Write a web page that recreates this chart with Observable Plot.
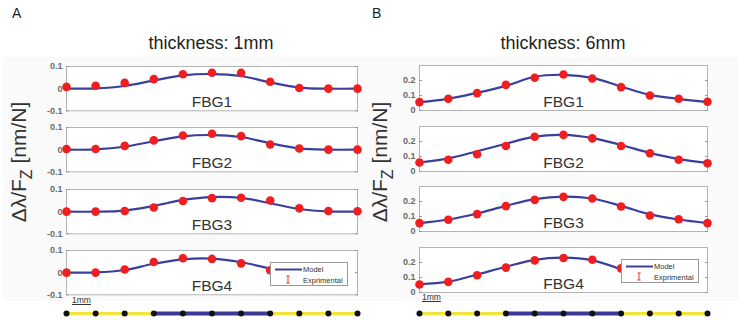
<!DOCTYPE html>
<html>
<head>
<meta charset="utf-8">
<script src="https://cdn.jsdelivr.net/npm/d3@7"></script>
<script src="https://cdn.jsdelivr.net/npm/@observablehq/plot@0.6"></script>
<style>
  html, body { margin: 0; padding: 0; background: #fff; }
  #fig { position: relative; width: 739px; height: 320px; overflow: hidden; font-family: "Liberation Sans", Arial, sans-serif; color: #333; }
  #fig svg { position: absolute; overflow: visible; background: transparent; }
  .abs { position: absolute; white-space: nowrap; }
  .legend { position: absolute; background: #fff; border: 1px solid #999; box-sizing: border-box; }
</style>
</head>
<body>
<div id="fig"></div>
<script>
// ---------- data ----------
const positions = [0, 1, 2, 3, 4, 5, 6, 7, 8, 9, 10];   // FBG sensor positions (spacing units)
const fbgNames = ["FBG1", "FBG2", "FBG3", "FBG4"];
const activeSegment = [3, 7];                          // blue section of the fiber

// thickness 1 mm
const expA1 = [0.008, 0.013, 0.026, 0.043, 0.065, 0.072, 0.071, 0.031, 0.003, 0.000, 0.000];
const modA1 = [0.000, 0.001, 0.012, 0.037, 0.060, 0.066, 0.057, 0.028, 0.005, 0.000, 0.000];
const expA2 = [0.003, 0.003, 0.017, 0.042, 0.064, 0.072, 0.061, 0.023, 0.005, 0.000, 0.000];
const modA2 = [0.000, 0.001, 0.013, 0.038, 0.060, 0.066, 0.057, 0.029, 0.006, 0.000, 0.000];
const expA3 = [0.000, 0.000, 0.003, 0.019, 0.048, 0.061, 0.063, 0.050, 0.015, 0.003, 0.002];
const modA3 = [0.000, 0.000, 0.005, 0.026, 0.053, 0.066, 0.062, 0.038, 0.012, 0.001, 0.000];
// FBG4: only the part not hidden by the legend is visible in the figure
const expA4 = [0.000, 0.000, 0.014, 0.048, 0.065, 0.062, 0.042, 0.011];
const modA4 = [0.000, 0.001, 0.012, 0.040, 0.060, 0.063, 0.047, 0.018];

// thickness 6 mm
const expB1 = [0.056, 0.078, 0.116, 0.171, 0.218, 0.240, 0.213, 0.156, 0.100, 0.078, 0.058];
const modB1 = [0.056, 0.078, 0.118, 0.164, 0.225, 0.238, 0.218, 0.160, 0.104, 0.078, 0.056];
const expB2 = [0.060, 0.078, 0.115, 0.170, 0.232, 0.244, 0.221, 0.170, 0.122, 0.078, 0.055];
const modB2 = [0.060, 0.087, 0.135, 0.185, 0.232, 0.244, 0.223, 0.177, 0.124, 0.083, 0.058];
const expB3 = [0.056, 0.078, 0.116, 0.169, 0.211, 0.231, 0.220, 0.167, 0.107, 0.082, 0.056];
const modB3 = [0.056, 0.080, 0.120, 0.171, 0.216, 0.233, 0.220, 0.171, 0.114, 0.080, 0.056];
const expB4 = [0.053, 0.071, 0.115, 0.166, 0.214, 0.230, 0.218, 0.161];
const modB4 = [0.055, 0.072, 0.120, 0.172, 0.218, 0.232, 0.214, 0.154];

const ticksA = [-0.1, 0, 0.1];
const ticksB = [0, 0.1, 0.2];
const domainA = [-0.1, 0.1];
const domainB = [0, 0.3];

// ---------- layout ----------
const fig = document.getElementById("fig");
const MODEL = "#3a3f9e", EXP = "#f01e1e";

const panels = [
  { left: 0, width: 365, mL: 66, mR: 8, tops: [65.7, 127.1, 188.5, 249.9], h: 44.3,
    domain: domainA, ticks: ticksA, exp: [expA1, expA2, expA3, expA4], mod: [modA1, modA2, modA3, modA4], labelY: -0.062 },
  { left: 370, width: 369, mL: 49, mR: 32, tops: [65, 125.6, 186.2, 246.8], h: 45,
    domain: domainB, ticks: ticksB, exp: [expB1, expB2, expB3, expB4], mod: [modB1, modB2, modB3, modB4], labelY: 0.055 }
];

const fmt = d => d === 0 ? "0" : String(d);
const pad = 6;

function place(el, left, top) {
  el.style.left = left + "px";
  el.style.top = top + "px";
  fig.appendChild(el);
}

// light figure background
const bg = document.createElement("div");
bg.className = "abs";
bg.style.cssText += "left:3px;top:57px;width:736px;height:244px;background:#fafafa;";
fig.appendChild(bg);

panels.forEach(p => {
  p.exp.forEach((ev, i) => {
    const rows = ev.map((e, k) => ({ x: positions[k], exp: e, model: p.mod[i][k] }));
    const svg = Plot.plot({
      width: p.width,
      height: p.h + 2 * pad,
      marginLeft: p.mL, marginRight: p.mR, marginTop: pad, marginBottom: pad,
      x: { domain: [0, 10], axis: null },
      y: { domain: p.domain, axis: null },
      style: { fontFamily: "Liberation Sans, Arial, sans-serif", background: "transparent", overflow: "visible" },
      marks: [
        Plot.frame({ fill: "#fff", stroke: "#b4b4b4", strokeWidth: 1 }),
        Plot.axisY(p.ticks, { anchor: "left", tickSize: -3, tickPadding: 7, stroke: "#999", tickFormat: fmt, fontSize: 9, fill: "#6a6a6a", fontWeight: "bold" }),
        Plot.axisY(p.ticks, { anchor: "right", tickSize: -3, stroke: "#999", tickFormat: () => "" }),
        Plot.text([fbgNames[i]], { x: () => 5, y: () => p.labelY, text: d => d, fontSize: 15.5, fill: "#333" }),
        Plot.line(rows, { x: "x", y: "model", curve: "catmull-rom", stroke: MODEL, strokeWidth: 2.2 }),
        Plot.dot(rows, { x: "x", y: "exp", r: 4.3, fill: EXP, stroke: "none" })
      ]
    });
    place(svg, p.left, p.tops[i] - pad);
  });

  // fiber bar under the panel
  const segs = [
    { from: positions[0], to: positions[positions.length - 1], color: "#f3e43c", w: 3 },
    { from: activeSegment[0], to: activeSegment[1], color: "#3a3a96", w: 4 }
  ];
  const bar = Plot.plot({
    width: p.width, height: 24,
    marginLeft: p.mL, marginRight: p.mR, marginTop: 0, marginBottom: 0,
    x: { domain: [0, 10], axis: null },
    y: { domain: [-1, 1], axis: null },
    style: { background: "transparent", overflow: "visible" },
    marks: [
      Plot.ruleY(segs, { y: () => 0, x1: "from", x2: "to", stroke: d => d.color, strokeWidth: d => d.w }),
      Plot.dot(positions, { x: d => d, y: () => 0, r: 3, fill: "#111", stroke: "none" })
    ]
  });
  place(bar, p.left, 301);
});

// ---------- texts ----------
function txt(html, left, top, css) {
  const d = document.createElement("div");
  d.className = "abs";
  d.innerHTML = html;
  d.style.cssText += css || "";
  place(d, left, top);
  return d;
}
txt("A", 12, 5, "font-size:14px;color:#222;");
txt("B", 372, 5, "font-size:14px;color:#222;");
txt("thickness: 1mm", 211, 33, "font-size:18px;color:#222;transform:translateX(-50%);");
txt("thickness: 6mm", 563, 33, "font-size:18px;color:#222;transform:translateX(-50%);");

const ylab = "&Delta;&lambda;/F<sub style='font-size:16px;vertical-align:-6px;'>Z</sub> [nm/N]";
[[22, 162], [383, 162]].forEach(([cx, cy]) => {
  txt(ylab, cx, cy, "font-size:21px;color:#333;transform:translate(-50%,-50%) rotate(-90deg);line-height:21px;");
});

txt("1mm", 72, 295, "font-size:8.5px;color:#333;text-decoration:underline;");
txt("1mm", 422, 292, "font-size:8.5px;color:#333;text-decoration:underline;");

// ---------- legends ----------
function legend(left, top) {
  const d = document.createElement("div");
  d.className = "legend";
  d.style.cssText += `width:78px;height:24px;`;
  d.innerHTML = `
    <svg width="78" height="24" style="position:absolute;left:0;top:0;overflow:visible">
      <line x1="4" x2="31" y1="6.5" y2="6.5" stroke="${MODEL}" stroke-width="2"/>
      <g stroke="${EXP}" stroke-width="0.9">
        <line x1="17" x2="17" y1="13" y2="20"/>
        <line x1="15.3" x2="18.7" y1="13" y2="13"/>
        <line x1="15.3" x2="18.7" y1="20" y2="20"/>
      </g>
      <text x="32" y="9" font-size="7.5" fill="#333" font-family="Liberation Sans, Arial">Model</text>
      <text x="32" y="19.5" font-size="7.5" fill="#333" font-family="Liberation Sans, Arial">Exprimental</text>
    </svg>`;
  place(d, left, top);
}
legend(270, 261.5);
legend(621, 259);
</script>
</body>
</html>
